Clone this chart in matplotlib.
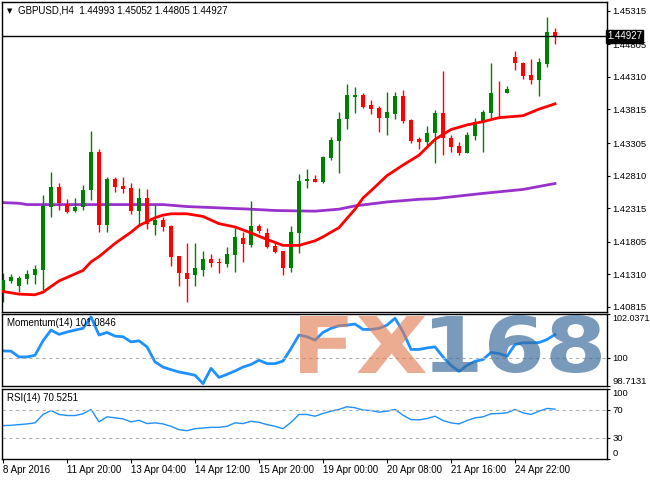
import numpy as np
import matplotlib
matplotlib.use("Agg")
import matplotlib.pyplot as plt
from matplotlib.textpath import TextPath
from matplotlib.patches import PathPatch
from matplotlib.font_manager import FontProperties
from matplotlib.transforms import Affine2D

plt.rcParams["font.family"] = ["Liberation Sans", "DejaVu Sans"]

# GBPUSD H4 candles (bar 0 = 8 Apr 2016)
opens = [1.41042, 1.41214, 1.41138, 1.41240, 1.41305, 1.41377, 1.42338, 1.42633, 1.42375, 1.42277,
         1.42329, 1.42587, 1.43169, 1.42060, 1.42759, 1.42653, 1.42622, 1.42277, 1.42466, 1.42060,
         1.42136, 1.42045, 1.41594, 1.41327, 1.41301, 1.41377, 1.41539, 1.41503, 1.41468, 1.41605,
         1.41858, 1.41756, 1.42045, 1.41934, 1.41741, 1.41665, 1.41402, 1.41943, 1.42733, 1.42759,
         1.42718, 1.43073, 1.43341, 1.43670, 1.44009, 1.44035, 1.43883, 1.43833, 1.43690, 1.43746,
         1.44020, 1.43655, 1.43362, 1.43326, 1.43462, 1.43757, 1.43377, 1.43260, 1.43158, 1.43412,
         1.43620, 1.43766, 1.44070, 1.44061, 1.44608, 1.44526, 1.44339, 1.44263, 1.44506, 1.44993]
highs = [1.41331, 1.41316, 1.41290, 1.41377, 1.41457, 1.42516, 1.42865, 1.42703, 1.42455, 1.42466,
         1.42663, 1.43488, 1.43215, 1.42789, 1.42785, 1.42794, 1.42703, 1.42618, 1.42607, 1.42364,
         1.42186, 1.42060, 1.41594, 1.41791, 1.41791, 1.41665, 1.41615, 1.41554, 1.41721, 1.42010,
         1.41958, 1.42425, 1.42071, 1.42010, 1.41791, 1.41665, 1.42050, 1.42830, 1.42911, 1.42820,
         1.43108, 1.43402, 1.43781, 1.44202, 1.44152, 1.44070, 1.43959, 1.43868, 1.44085, 1.44085,
         1.44111, 1.43666, 1.43402, 1.43564, 1.43807, 1.44400, 1.43427, 1.43326, 1.43477, 1.43690,
         1.43807, 1.44526, 1.44252, 1.44172, 1.44708, 1.44541, 1.44582, 1.44592, 1.45215, 1.45052]
lows = [1.40890, 1.41179, 1.41047, 1.41164, 1.41164, 1.41073, 1.42186, 1.42288, 1.42247, 1.42262,
        1.42288, 1.42440, 1.41958, 1.41958, 1.42566, 1.42542, 1.42227, 1.42060, 1.41995, 1.41908,
        1.41974, 1.41437, 1.41134, 1.40895, 1.41134, 1.41286, 1.41427, 1.41327, 1.41427, 1.41351,
        1.41503, 1.41731, 1.41943, 1.41706, 1.41630, 1.41301, 1.41351, 1.41639, 1.42627, 1.42709,
        1.42703, 1.43048, 1.42846, 1.43518, 1.43766, 1.43833, 1.43746, 1.43477, 1.43427, 1.43670,
        1.43614, 1.43301, 1.43210, 1.43275, 1.42997, 1.43124, 1.43174, 1.43124, 1.43158, 1.43351,
        1.43174, 1.43681, 1.43681, 1.44061, 1.44415, 1.44278, 1.44202, 1.44020, 1.44465, 1.44805]
closes = [1.41225, 1.41265, 1.41251, 1.41316, 1.41392, 1.42349, 1.42637, 1.42399, 1.42262, 1.42334,
          1.42592, 1.43169, 1.42060, 1.42754, 1.42642, 1.42603, 1.42277, 1.42466, 1.42071, 1.42136,
          1.42034, 1.41579, 1.41327, 1.41240, 1.41402, 1.41539, 1.41488, 1.41478, 1.41615, 1.41873,
          1.41767, 1.42045, 1.41974, 1.41721, 1.41655, 1.41402, 1.41949, 1.42729, 1.42759, 1.42709,
          1.43089, 1.43351, 1.43670, 1.44035, 1.44035, 1.43857, 1.43822, 1.43690, 1.43772, 1.44020,
          1.43640, 1.43336, 1.43316, 1.43462, 1.43757, 1.43377, 1.43250, 1.43158, 1.43427, 1.43620,
          1.43781, 1.44070, 1.44061, 1.44126, 1.44526, 1.44328, 1.44263, 1.44541, 1.44993, 1.44927]

# moving averages (read at some bars)
ma_fast_idx = [0, 2, 4, 5, 7, 10, 11, 12, 14, 16, 17, 19, 20, 21, 23, 25, 27, 29, 31, 33,
               35, 37, 39, 40, 42, 44, 45, 46, 48, 50, 52, 54, 56, 58, 60, 62, 65, 67, 69]
ma_fast = [1.4105, 1.4101, 1.4100, 1.4104, 1.4121, 1.4137, 1.4150, 1.4158, 1.4178, 1.4195,
           1.4205, 1.4217, 1.4221, 1.4223, 1.4223, 1.4219, 1.4208, 1.4203, 1.4194, 1.4184,
           1.4175, 1.4175, 1.4182, 1.4188, 1.4202, 1.4230, 1.4247, 1.4258, 1.4281, 1.4297,
           1.4312, 1.4336, 1.4351, 1.4358, 1.4363, 1.4369, 1.4372, 1.4382, 1.4390]
ma_slow_idx = [0, 2, 3, 10, 20, 23, 27, 31, 34, 39, 42, 44, 46, 48, 52, 54, 60, 65, 69]
ma_slow = [1.4240, 1.4239, 1.4237, 1.4237, 1.4237, 1.4234, 1.4232, 1.4230, 1.4228, 1.4227,
           1.4230, 1.4235, 1.4238, 1.4241, 1.4245, 1.4246, 1.4254, 1.4260, 1.4269]

momentum = [100.32, 100.31, 100.04, 100.04, 100.12, 100.79, 101.29, 101.09, 101.20, 101.29,
            101.37, 101.90, 101.06, 101.18, 101.01, 100.98, 100.74, 100.79, 100.51, 99.81,
            99.57, 99.45, 99.34, 99.27, 99.19, 98.80, 99.51, 99.09, 99.23, 99.39,
            99.57, 99.69, 99.89, 99.73, 99.73, 99.85, 100.43, 101.06, 100.98, 100.82,
            101.18, 101.37, 101.49, 101.52, 101.57, 101.32, 101.32, 101.37, 101.52, 101.84,
            101.21, 100.39, 100.39, 100.46, 100.51, 100.04, 99.65, 99.37, 99.65, 99.84,
            99.92, 100.25, 100.20, 100.07, 100.62, 100.70, 100.70, 100.71, 100.85, 101.0846]
rsi = [47.0, 47.4, 48.4, 49.4, 50.9, 62.9, 68.6, 62.9, 61.4, 61.4,
       63.9, 70.1, 52.3, 59.5, 58.1, 56.6, 52.3, 54.6, 49.9, 50.9,
       49.4, 46.0, 41.2, 39.7, 42.6, 43.6, 44.5, 44.5, 46.0, 50.9,
       49.9, 53.2, 51.7, 48.4, 46.0, 42.6, 51.7, 62.9, 62.9, 60.4,
       64.3, 67.6, 70.1, 74.0, 72.5, 69.1, 68.6, 66.2, 67.6, 70.1,
       61.8, 55.6, 55.2, 57.1, 60.4, 54.2, 50.9, 49.4, 54.2, 58.1,
       59.5, 63.9, 64.3, 65.3, 70.1, 65.3, 62.9, 67.6, 71.5, 70.5251]

price_ticks = [1.45315, 1.44805, 1.44310, 1.43815, 1.43305, 1.42810, 1.42315, 1.41805, 1.41310, 1.40815]
time_idx = [0, 8, 16, 24, 32, 40, 48, 56, 64]
time_labels = ["8 Apr 2016", "11 Apr 20:00", "13 Apr 04:00", "14 Apr 12:00", "15 Apr 20:00",
               "19 Apr 00:00", "20 Apr 08:00", "21 Apr 16:00", "24 Apr 22:00"]
last_price = 1.44927

W, H = 650, 480
fig = plt.figure(figsize=(W / 100, H / 100), dpi=100)

def pane(top, bottom):
    return fig.add_axes([2 / W, 1 - bottom / H, 605 / W, (bottom - top) / H])

ax = pane(2, 311.5)
ax_m = pane(314, 385.5)
ax_r = pane(388.5, 458.5)

x = np.arange(len(opens))
o = np.array(opens); h = np.array(highs); l = np.array(lows); c = np.array(closes)
up = c >= o
cols = np.where(up, "#008000", "#ff0000")

ax.vlines(x, l, h, colors=cols, linewidth=1, zorder=2)
ax.bar(x, np.maximum(np.abs(c - o), 0.00006), bottom=np.minimum(o, c), width=0.62,
       color=cols, linewidth=0, zorder=3)
ax.plot(ma_slow_idx, ma_slow, color="#9932cc", linewidth=2, zorder=1)
ax.plot(ma_fast_idx, ma_fast, color="#ff0000", linewidth=2, zorder=4)
ax.axhline(last_price, color="black", linewidth=1, zorder=5)

ax.set_ylim(1.40746, 1.45447)
ax.set_yticks(price_ticks)
ax.set_yticklabels([f"{t:.5f}" for t in price_ticks])
ax.text(1.0, last_price, f"{last_price:.5f}", transform=ax.get_yaxis_transform(),
        color="white", fontsize=7, va="center", ha="left",
        bbox=dict(boxstyle="square,pad=0.15", fc="black", ec="black"))
ax.text(0.008, 0.972, "▼", transform=ax.transAxes, fontsize=5, va="center",
        family="DejaVu Sans")
ax.text(0.027, 0.972, "GBPUSD,H4  1.44993 1.45052 1.44805 1.44927", transform=ax.transAxes,
        fontsize=7, va="center")

ax_m.plot(x, momentum, color="#1e90ff", linewidth=2)
ax_m.axhline(100, color="#b0b0b0", linewidth=0.8, linestyle=(0, (3, 3)))
ax_m.set_ylim(98.7131, 102.0371)
ax_m.set_yticks([102.0371, 100, 98.7131])
ax_m.set_yticklabels(["102.0371", "100", "98.7131"])
ax_m.text(0.008, 0.88, "Momentum(14) 101.0846", transform=ax_m.transAxes, fontsize=7,
          va="center")

ax_r.plot(x, rsi, color="#1e90ff", linewidth=1)
for lvl in (70, 30):
    ax_r.axhline(lvl, color="#b0b0b0", linewidth=0.8, linestyle=(0, (3, 3)))
ax_r.set_ylim(0, 100)
ax_r.set_yticks([100, 70, 30, 0])
ax_r.set_yticklabels(["100", "70", "30", "0"])
ax_r.text(0.008, 0.86, "RSI(14) 70.5251", transform=ax_r.transAxes, fontsize=7, va="center")

for a in (ax, ax_m, ax_r):
    a.set_xlim(-0.125, 75.5)
    a.yaxis.tick_right()
    a.tick_params(axis="y", direction="out", length=2.5, width=0.8, labelsize=6.8, pad=1.5,
                  colors="black")
    for s in a.spines.values():
        s.set_linewidth(1)
        s.set_color("black")
    if a is not ax_r:
        a.set_xticks([])

labs = ax_m.get_yticklabels()
labs[0].set_va("top"); labs[2].set_va("bottom")
labs[0].set_fontsize(6.5)
labs = ax_r.get_yticklabels()
labs[0].set_va("top"); labs[3].set_va("bottom")

ax_r.set_xticks(time_idx)
ax_r.set_xticklabels(time_labels, ha="left")
ax_r.tick_params(axis="x", direction="out", length=3, width=0.8, labelsize=7, pad=2)

# FX168 watermark, each part stretched into its pixel box
bold = FontProperties(family="DejaVu Sans", weight="bold")

def stamp(s, x0, x1, ytop, ybot, color, alpha):
    p = TextPath((0, 0), s, size=1, prop=bold)
    e = p.get_extents()
    sx = (x1 - x0) / e.width
    sy = (ybot - ytop) / e.height
    tr = Affine2D().translate(-e.x0, -e.y0).scale(sx, sy).translate(x0, H - ybot)
    fig.patches.append(PathPatch(tr.transform_path(p), transform=None, fc=color,
                                 ec="none", alpha=alpha, zorder=10))

stamp("FX", 300, 426, 316, 373, "#e07a50", 0.62)
stamp("168", 432, 601, 315, 373, "#3a6a9a", 0.68)

fig.savefig("out.png", dpi=100)
